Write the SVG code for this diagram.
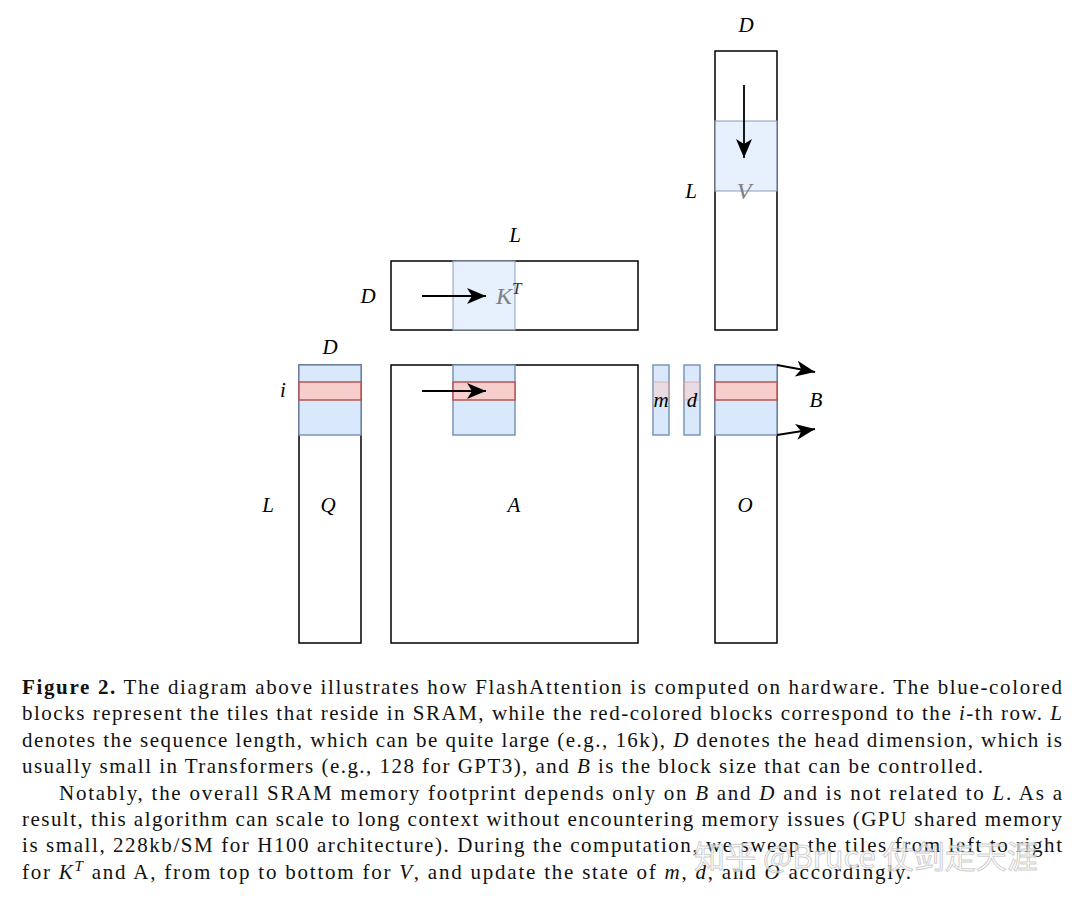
<svg xmlns="http://www.w3.org/2000/svg" width="1080" height="900" viewBox="0 0 1080 900">
<style>
.box{fill:#ffffff;stroke:#000000;stroke-width:1.5}
.blue{fill:#dae8fc;stroke:#7b95ba;stroke-width:1.5}
.blueL{fill:#dae8fc;fill-opacity:0.65;stroke:#8fa3bf;stroke-opacity:0.7;stroke-width:1.5}
.red{fill:#f8cecc;stroke:#b85450;stroke-width:1.5}
.redL{fill:#f8cecc;fill-opacity:0.55;stroke:#c99a98;stroke-opacity:0.6;stroke-width:1}
.m{font-family:"Liberation Serif",serif;font-style:italic;font-size:21px;fill:#000}
.mg{font-family:"Liberation Serif",serif;font-style:italic;font-size:24px;fill:#808080}
.cap{font-family:"Liberation Serif",serif;font-size:21px;fill:#111}
.it{font-style:italic}
.con{stroke:#000;stroke-width:1.8;fill:none;marker-end:url(#ah)}
</style>
<defs>
<marker id="ah" markerUnits="userSpaceOnUse" markerWidth="20" markerHeight="18" refX="19" refY="9" orient="auto">
<path d="M0,1 L19,9 L0,17 L5,9 Z" fill="#000"/>
</marker>
</defs>
<rect width="1080" height="900" fill="#ffffff"/>

<g id="V">
<rect class="box" x="715" y="51" width="62" height="279"/>
<rect class="blueL" x="715" y="121" width="62" height="70"/>
<text class="m" x="746" y="32" text-anchor="middle">D</text>
<text class="m" x="691" y="198" text-anchor="middle">L</text>
<text class="mg" x="744" y="199" text-anchor="middle">V</text>
</g>

<g id="KT">
<rect class="box" x="391" y="261" width="247" height="69"/>
<rect class="blueL" x="453" y="261" width="62" height="69"/>
<text class="m" x="515" y="242" text-anchor="middle">L</text>
<text class="m" x="368" y="303" text-anchor="middle">D</text>
<text class="mg" x="496" y="304">K<tspan font-size="17" dy="-10" fill="#333">T</tspan></text>
</g>

<g id="Q">
<rect class="box" x="299" y="365" width="62" height="278"/>
<rect class="blue" x="299" y="365" width="62" height="70"/>
<rect class="red" x="299" y="382" width="62" height="18"/>
<text class="m" x="330" y="354" text-anchor="middle">D</text>
<text class="m" x="283" y="397" text-anchor="middle">i</text>
<text class="m" x="268" y="512" text-anchor="middle">L</text>
<text class="m" x="328" y="512" text-anchor="middle" font-size="22">Q</text>
</g>

<g id="A">
<rect class="box" x="391" y="365" width="247" height="278"/>
<rect class="blue" x="453" y="365" width="62" height="70"/>
<rect class="red" x="453" y="382" width="62" height="18"/>
<text class="m" x="514" y="512" text-anchor="middle">A</text>
</g>

<g id="m">
<rect class="blue" x="653" y="365" width="16" height="70"/>
<rect class="redL" x="653.5" y="382" width="15" height="18"/>
<text class="m" x="661" y="407" text-anchor="middle" font-size="18">m</text>
</g>

<g id="d">
<rect class="blue" x="684" y="365" width="16" height="70"/>
<rect class="redL" x="684.5" y="382" width="15" height="18"/>
<text class="m" x="692" y="407" text-anchor="middle" font-size="18">d</text>
</g>

<g id="O">
<rect class="box" x="715" y="365" width="62" height="278"/>
<rect class="blue" x="715" y="365" width="62" height="70"/>
<rect class="red" x="715" y="382" width="62" height="18"/>
<text class="m" x="745" y="512" text-anchor="middle" font-size="22">O</text>
<text class="m" x="816" y="407" text-anchor="middle">B</text>
</g>

<g id="connectors">
<line class="con" x1="744" y1="85" x2="744" y2="158"/>
<line class="con" x1="422" y1="296" x2="486" y2="296"/>
<line class="con" x1="422" y1="391" x2="486" y2="391"/>
<line class="con" x1="777" y1="365" x2="815" y2="372"/>
<line class="con" x1="777" y1="435" x2="815" y2="429"/>
</g>

<g id="caption">
<text class="cap" x="22" y="694" textLength="1040" lengthAdjust="spacing"><tspan font-weight="bold">Figure 2.</tspan> The diagram above illustrates how FlashAttention is computed on hardware. The blue-colored</text>
<text class="cap" x="22" y="720.4" textLength="1040" lengthAdjust="spacing">blocks represent the tiles that reside in SRAM, while the red-colored blocks correspond to the <tspan class="it">i</tspan>-th row. <tspan class="it">L</tspan></text>
<text class="cap" x="22" y="746.8" textLength="1040" lengthAdjust="spacing">denotes the sequence length, which can be quite large (e.g., 16k), <tspan class="it">D</tspan> denotes the head dimension, which is</text>
<text class="cap" x="22" y="773.2" textLength="961" lengthAdjust="spacing">usually small in Transformers (e.g., 128 for GPT3), and <tspan class="it">B</tspan> is the block size that can be controlled.</text>
<text class="cap" x="59" y="799.6" textLength="1003" lengthAdjust="spacing">Notably, the overall SRAM memory footprint depends only on <tspan class="it">B</tspan> and <tspan class="it">D</tspan> and is not related to <tspan class="it">L</tspan>. As a</text>
<text class="cap" x="22" y="826" textLength="1040" lengthAdjust="spacing">result, this algorithm can scale to long context without encountering memory issues (GPU shared memory</text>
<text class="cap" x="22" y="852.4" textLength="1040" lengthAdjust="spacing">is small, 228kb/SM for H100 architecture). During the computation, we sweep the tiles from left to right</text>
<text class="cap" x="22" y="878.8" textLength="889" lengthAdjust="spacing">for <tspan class="it">K</tspan><tspan class="it" font-size="15" dy="-8">T</tspan><tspan dy="8"> and A, from top to bottom for </tspan><tspan class="it">V</tspan>, and update the state of <tspan class="it">m</tspan>, <tspan class="it">d</tspan>, and <tspan class="it">O</tspan> accordingly.</text>
</g>

<g id="watermark">
<text x="694" y="868" font-family="'Noto Sans CJK SC','Noto Sans',sans-serif" font-size="31" fill="#ffffff" fill-opacity="0.7" stroke="#b8b8b8" stroke-opacity="0.7" stroke-width="1">知乎 @Bruce 仗剑走天涯</text>
</g>
</svg>
